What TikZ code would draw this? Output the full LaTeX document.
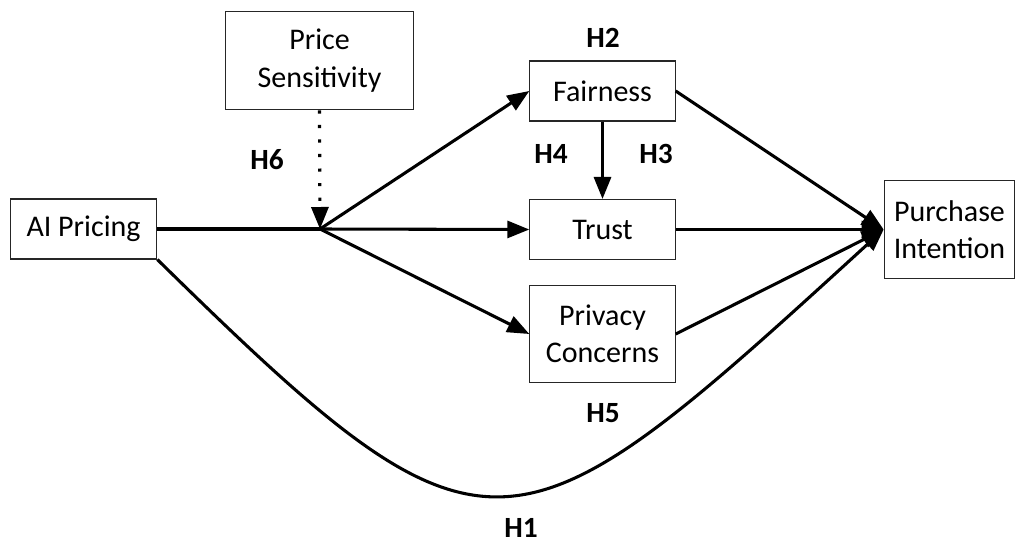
\documentclass[tikz,border=0pt]{standalone}
\usepackage{fontspec}
\setmainfont{Carlito}
\usetikzlibrary{arrows.meta}

\tikzset{
  box/.style={draw=black!85,line width=0.8pt,align=center,inner sep=0pt},
  hyp/.style={font=\fontsize{22}{28}\selectfont\bfseries,inner sep=0pt},
  link/.style={line width=2.3pt,-{Triangle[length=16.5pt,width=12.75pt]}},
}

\begin{document}
\begin{tikzpicture}[x=0.75pt,y=-0.75pt,font=\fontsize{22.5}{28}\selectfont]
\useasboundingbox (0,0) rectangle (1020,543);

\node[box,minimum width=141pt,minimum height=74pt] (PS) at (319.5,60.5) {Price\\Sensitivity};
\node[box,minimum width=110pt,minimum height=45pt] (AI) at (83.5,229) {AI Pricing};
\node[box,minimum width=109pt,minimum height=45pt] (F) at (602.5,91) {Fairness};
\node[box,minimum width=109pt,minimum height=45pt] (T) at (602.5,229.5) {Trust};
\node[box,minimum width=109pt,minimum height=73pt] (PC) at (602.5,334) {Privacy\\Concerns};
\node[box,minimum width=98pt,minimum height=73pt] (PI) at (949.5,229.5) {Purchase\\Intention};
\coordinate (J) at (320,229);

\draw[line width=2.3pt] (AI.east) -- (J);
\draw[link,line width=2.4pt,dash pattern=on 2.4pt off 8.5pt] (PS.south) -- (J);
\draw[link] (J) -- (F.west);
\draw[link] (J) -- (T.west);
\draw[link] (J) -- (PC.west);
\draw[link] (F.south) -- (T.north);
\draw[link] (F.east) -- (PI.west);
\draw[link] (T.east) -- (PI.west);
\draw[link] (PC.east) -- (PI.west);
\draw[link] (AI.south east) .. controls (490,586) and (510,571) .. (PI.west);

\node[hyp] (H2) at (603,38) {H2};
\node[hyp] (H6) at (267,160) {H6};
\node[hyp] (H4) at (551,154) {H4};
\node[hyp] (H3) at (656,154) {H3};
\node[hyp] (H5) at (603,413) {H5};
\node[hyp] (H1) at (521,528) {H1};
\end{tikzpicture}
\end{document}
